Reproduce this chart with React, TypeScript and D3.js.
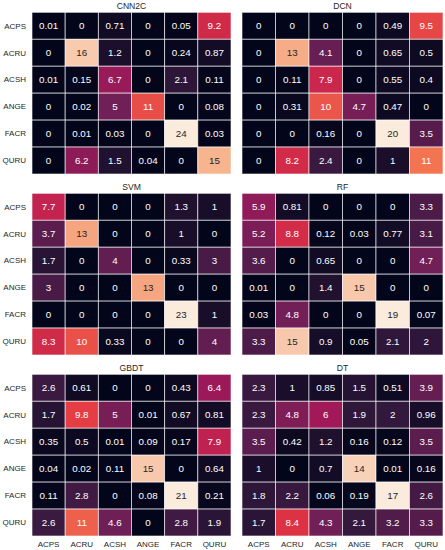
import React, { useRef, useEffect } from 'react';
import * as d3 from 'd3';

const species = ['ACPS', 'ACRU', 'ACSH', 'ANGE', 'FACR', 'QURU'];

const cnn2c = [
  [0.01, 0, 0.71, 0, 0.05, 9.2],
  [0, 16, 1.2, 0, 0.24, 0.87],
  [0.01, 0.15, 6.7, 0, 2.1, 0.11],
  [0, 0.02, 5, 11, 0, 0.08],
  [0, 0.01, 0.03, 0, 24, 0.03],
  [0, 6.2, 1.5, 0.04, 0, 15],
];
const dcn = [
  [0, 0, 0, 0, 0.49, 9.5],
  [0, 13, 4.1, 0, 0.65, 0.5],
  [0, 0.11, 7.9, 0, 0.55, 0.4],
  [0, 0.31, 10, 4.7, 0.47, 0],
  [0, 0, 0.16, 0, 20, 3.5],
  [0, 8.2, 2.4, 0, 1, 11],
];
const svm = [
  [7.7, 0, 0, 0, 1.3, 1],
  [3.7, 13, 0, 0, 1, 0],
  [1.7, 0, 4, 0, 0.33, 3],
  [3, 0, 0, 13, 0, 0],
  [0, 0, 0, 0, 23, 1],
  [8.3, 10, 0.33, 0, 0, 4],
];
const rf = [
  [5.9, 0.81, 0, 0, 0, 3.3],
  [5.2, 8.8, 0.12, 0.03, 0.77, 3.1],
  [3.6, 0, 0.65, 0, 0, 4.7],
  [0.01, 0, 1.4, 15, 0, 0],
  [0.03, 4.8, 0, 0, 19, 0.07],
  [3.3, 15, 0.9, 0.05, 2.1, 2],
];
const gbdt = [
  [2.6, 0.61, 0, 0, 0.43, 6.4],
  [1.7, 9.8, 5, 0.01, 0.67, 0.81],
  [0.35, 0.5, 0.01, 0.09, 0.17, 7.9],
  [0.04, 0.02, 0.11, 15, 0, 0.64],
  [0.11, 2.8, 0, 0.08, 21, 0.21],
  [2.6, 11, 4.6, 0, 2.8, 1.9],
];
const dt = [
  [2.3, 1, 0.85, 1.5, 0.51, 3.9],
  [2.3, 4.8, 6, 1.9, 2, 0.96],
  [3.5, 0.42, 1.2, 0.16, 0.12, 3.5],
  [1, 0, 0.7, 14, 0.01, 0.16],
  [1.8, 2.2, 0.06, 0.19, 17, 2.6],
  [1.7, 8.4, 4.3, 2.1, 3.2, 3.3],
];

const panelTitles = ['CNN2C', 'DCN', 'SVM', 'RF', 'GBDT', 'DT'];
const panelData = [cnn2c, dcn, svm, rf, gbdt, dt];
// colour limits (brightest cells saturate)
const panelVmax = [17.5, 15.5, 15.8, 16.5, 16.5, 15];

// rocket-like colormap stops
const rocketStops = [0, 0.143, 0.286, 0.429, 0.571, 0.714, 0.857, 1];
const rocketColors = ['#03051a', '#35193e', '#701f57', '#ad1759', '#e13342', '#f37651', '#f6b48f', '#faebdd'];

const rocket = d3.scaleLinear<string>()
  .domain(rocketStops)
  .range(rocketColors)
  .interpolate(d3.interpolateRgb)
  .clamp(true);

function luminance(c: string) {
  const rgb = d3.rgb(c);
  const f = (v: number) => {
    v = v / 255;
    return v <= 0.03928 ? v / 12.92 : Math.pow((v + 0.055) / 1.055, 2.4);
  };
  return 0.2126 * f(rgb.r) + 0.7152 * f(rgb.g) + 0.0722 * f(rgb.b);
}

const fmt = (v: number) => String(v);

export default function App() {
  const svgRef = useRef(null);

  useEffect(() => {
    const svg = d3.select(svgRef.current);
    svg.selectAll('*').remove();

    const colX = [32, 242];
    const colW = [199, 201];
    const rowY = [12.3, 193.3, 374.3];
    const h = 161.7;
    const font = '"Liberation Sans", Arial, sans-serif';

    panelData.forEach((m, p) => {
      const c = p % 2;
      const r = Math.floor(p / 2);
      const x = d3.scaleBand().domain(species).range([colX[c], colX[c] + colW[c]]);
      const y = d3.scaleBand().domain(species).range([rowY[r], rowY[r] + h]);
      const norm = d3.scaleLinear().domain([0, panelVmax[p]]).range([0, 1]).clamp(true);

      const g = svg.append('g');

      species.forEach((rowName, i) => {
        species.forEach((colName, j) => {
          const v = m[i][j];
          const fill = rocket(norm(v));
          g.append('rect')
            .attr('x', x(colName))
            .attr('y', y(rowName))
            .attr('width', x.bandwidth())
            .attr('height', y.bandwidth())
            .attr('fill', fill)
            .attr('stroke', '#ffffff')
            .attr('stroke-opacity', 0.75)
            .attr('stroke-width', 0.8);
          g.append('text')
            .attr('x', x(colName) + x.bandwidth() / 2)
            .attr('y', y(rowName) + y.bandwidth() / 2)
            .attr('dy', '0.35em')
            .attr('text-anchor', 'middle')
            .attr('font-family', font)
            .attr('font-size', 9.8)
            .attr('fill', luminance(fill) > 0.408 ? '#262626' : '#ffffff')
            .text(fmt(v));
        });
      });

      // title
      svg.append('text')
        .attr('x', colX[c] + colW[c] / 2)
        .attr('y', rowY[r] - 3.5)
        .attr('text-anchor', 'middle')
        .attr('font-family', font)
        .attr('font-size', 8.6)
        .attr('fill', '#262626')
        .text(panelTitles[p]);

      if (c === 0) {
        species.forEach(s => {
          svg.append('text')
            .attr('x', 26)
            .attr('y', y(s) + y.bandwidth() / 2)
            .attr('dy', '0.35em')
            .attr('text-anchor', 'end')
            .attr('font-family', font)
            .attr('font-size', 8)
            .attr('fill', '#262626')
            .text(s);
        });
      }
      if (r === 2) {
        species.forEach(s => {
          svg.append('text')
            .attr('x', x(s) + x.bandwidth() / 2)
            .attr('y', rowY[r] + h + 10.5)
            .attr('text-anchor', 'middle')
            .attr('font-family', font)
            .attr('font-size', 8)
            .attr('fill', '#262626')
            .text(s);
        });
      }
    });
  }, []);

  return (
    <div style={{ position: 'fixed', top: 0, left: 0, width: 445, height: 550, background: '#fff' }}>
      <svg ref={svgRef} width={445} height={550} />
    </div>
  );
}
